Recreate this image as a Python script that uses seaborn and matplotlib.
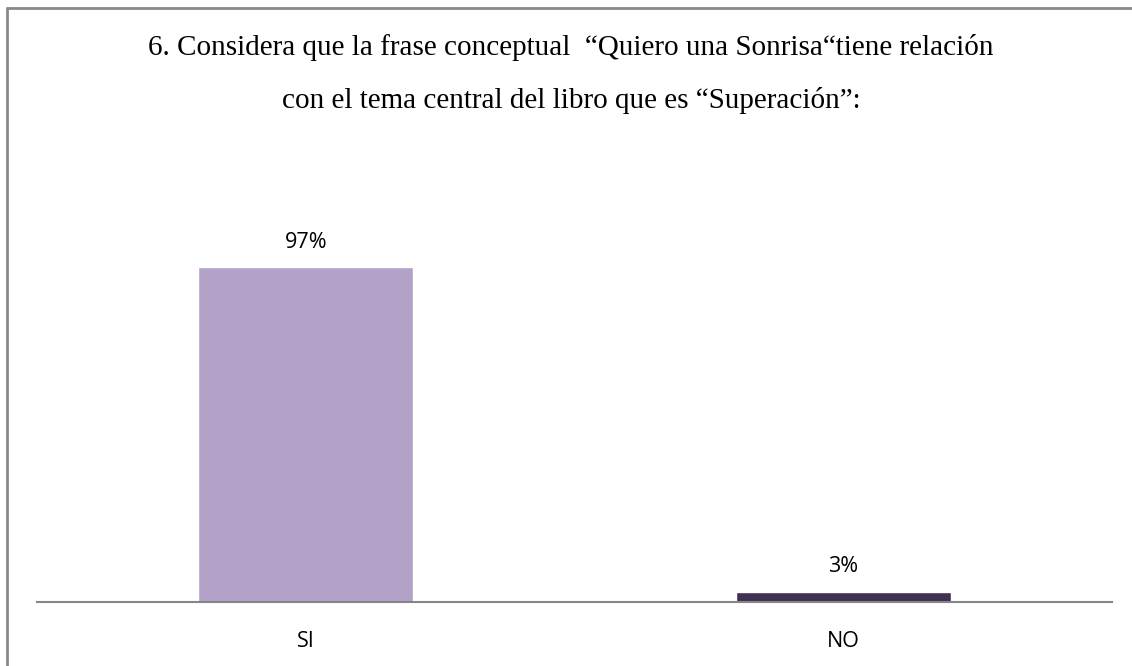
import matplotlib
matplotlib.use("Agg")
import matplotlib.pyplot as plt
from matplotlib.lines import Line2D
import seaborn as sns
import pandas as pd

# Survey answers and their shares
categories = ["SI", "NO"]
shares = [0.97, 0.03]
value_labels = ["97%", "3%"]
bar_colors = ["#b3a2c7", "#403152"]

title_lines = [
    "6. Considera que la frase conceptual  \u201cQuiero una Sonrisa\u201ctiene relación",
    "con el tema central del libro que es \u201cSuperación\u201d:",
]

sns.set_theme(style="white")
plt.rcParams["font.family"] = ["Open Sans", "DejaVu Sans"]

df = pd.DataFrame({"respuesta": categories, "porcentaje": shares})

fig = plt.figure(figsize=(11.32, 6.66), dpi=100)
ax = fig.add_axes([37 / 1132, 64 / 666, 1075 / 1132, 414 / 666])

sns.barplot(data=df, x="respuesta", y="porcentaje", hue="respuesta",
            palette=bar_colors, width=0.4, legend=False, ax=ax, saturation=1)

ax.set_ylim(0, 1.2)
ax.set_xlim(-0.5, 1.5)
ax.set_xlabel("")
ax.set_ylabel("")
ax.set_yticks([])
for side in ["left", "right", "top"]:
    ax.spines[side].set_visible(False)
ax.spines["bottom"].set_color("#868686")
ax.spines["bottom"].set_linewidth(1.5)
ax.tick_params(axis="x", length=0, pad=21, labelsize=15.5, colors="black")

for patch, label in zip(ax.patches, value_labels):
    ax.annotate(label, (patch.get_x() + patch.get_width() / 2, patch.get_height()),
                xytext=(0, 14), textcoords="offset points", ha="center",
                va="baseline", fontsize=15.5, color="black")

# Title, two lines in a serif face
title_x = 571 / 1132
for line, base_y in zip(title_lines, [55, 108]):
    fig.text(title_x, 1 - base_y / 666, line, ha="center", va="baseline",
             fontsize=21, color="black",
             family=["Liberation Serif", "DejaVu Serif"])

# Frame around the chart area (left and top edges)
fig.add_artist(Line2D([7 / 1132, 7 / 1132], [0, 1 - 8 / 666],
                      transform=fig.transFigure, color="#8a8a8a", lw=2))
fig.add_artist(Line2D([7 / 1132, 1], [1 - 8 / 666, 1 - 8 / 666],
                      transform=fig.transFigure, color="#8a8a8a", lw=2))

fig.savefig("out.png", dpi=100, facecolor="white")
